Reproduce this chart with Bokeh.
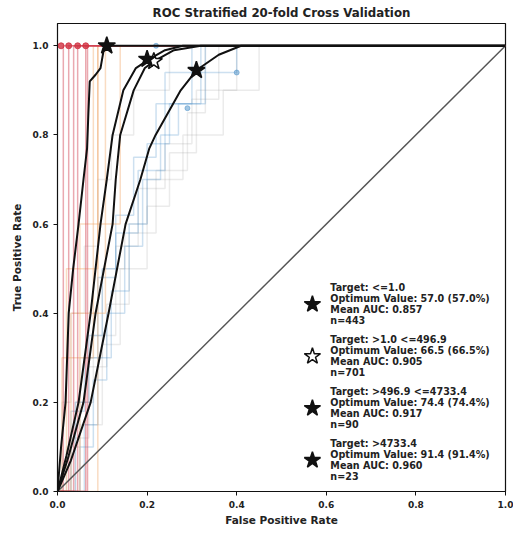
from bokeh.plotting import figure
from bokeh.models import Range1d, FixedTicker, PrintfTickFormatter
from bokeh.core.properties import value
from bokeh.embed import file_html
from bokeh.resources import INLINE

# ---------------- data ----------------
# Mean ROC curves for each target class
targets = ["<=1.0", ">1.0 <=496.9", ">496.9 <=4733.4", ">4733.4"]
optimum = [57.0, 66.5, 74.4, 91.4]
mean_auc = [0.857, 0.905, 0.917, 0.960]
n_obs = [443, 701, 90, 23]

fpr_c1 = [0, 0.03, 0.074, 0.114, 0.152, 0.185, 0.205, 0.219, 0.275, 0.31, 0.36, 0.41, 1.0]
tpr_c1 = [0, 0.07, 0.2, 0.4, 0.6, 0.7, 0.77, 0.8, 0.9, 0.945, 0.98, 1.0, 1.0]
fpr_c2 = [0, 0.025, 0.058, 0.085, 0.123, 0.13, 0.14, 0.17, 0.195, 0.215, 0.26, 0.32, 1.0]
tpr_c2 = [0, 0.08, 0.2, 0.4, 0.6, 0.7, 0.8, 0.9, 0.95, 0.965, 0.99, 1.0, 1.0]
fpr_c3 = [0, 0.02, 0.047, 0.074, 0.096, 0.11, 0.123, 0.147, 0.175, 0.205, 0.24, 0.28, 1.0]
tpr_c3 = [0, 0.08, 0.2, 0.4, 0.6, 0.7, 0.8, 0.9, 0.95, 0.97, 0.99, 1.0, 1.0]
fpr_c4 = [0, 0.008, 0.018, 0.025, 0.035, 0.047, 0.058, 0.066, 0.069, 0.072, 0.085, 0.096, 0.103, 0.11, 1.0]
tpr_c4 = [0, 0.1, 0.2, 0.4, 0.5, 0.6, 0.7, 0.77, 0.85, 0.92, 0.935, 0.95, 0.99, 1.0, 1.0]

opt_fpr = [0.31, 0.215, 0.20, 0.11]
opt_tpr = [0.945, 0.965, 0.97, 1.0]

# individual fold curves: (fpr at each jump, tpr after the jump)
red_folds = [([0.013], [1.0]), ([0.025], [1.0]), ([0.036], [1.0]),
             ([0.045], [1.0]), ([0.063], [1.0]), ([0.067], [1.0])]
red_opt_fpr = [0.008, 0.025, 0.045, 0.063]
orange_folds = [([0.01, 0.08], [0.3, 1.0]), ([0.02, 0.09], [0.5, 1.0]),
                ([0.03, 0.107], [0.4, 1.0]), ([0.05, 0.14], [0.6, 1.0]),
                ([0.09], [1.0])]
blue_folds = [([0.04, 0.07, 0.10, 0.13, 0.17, 0.22, 0.30], [0.2, 0.35, 0.5, 0.62, 0.75, 0.87, 1.0]),
              ([0.06, 0.09, 0.12, 0.16, 0.20, 0.25, 0.32], [0.15, 0.3, 0.45, 0.6, 0.78, 0.87, 1.0]),
              ([0.05, 0.08, 0.11, 0.15, 0.19, 0.23, 0.27, 0.33], [0.1, 0.25, 0.4, 0.55, 0.7, 0.8, 0.87, 1.0]),
              ([0.03, 0.06, 0.09, 0.13, 0.18, 0.24, 0.40], [0.18, 0.3, 0.48, 0.58, 0.72, 0.94, 1.0])]
blue_opt_fpr = [0.29, 0.22, 0.40]
blue_opt_tpr = [0.86, 1.0, 0.94]
gray_folds = [([0.02, 0.05, 0.10, 0.15, 0.20, 0.28, 0.37, 0.45], [0.1, 0.3, 0.5, 0.6, 0.7, 0.8, 0.9, 1.0]),
              ([0.04, 0.08, 0.13, 0.18, 0.24, 0.30, 0.36], [0.2, 0.35, 0.55, 0.68, 0.78, 0.88, 1.0]),
              ([0.03, 0.07, 0.11, 0.16, 0.22, 0.29, 0.33], [0.12, 0.28, 0.42, 0.58, 0.72, 0.85, 1.0]),
              ([0.05, 0.10, 0.14, 0.20, 0.25, 0.31, 0.40], [0.15, 0.33, 0.5, 0.64, 0.76, 0.9, 1.0]),
              ([0.01, 0.03, 0.06, 0.09, 0.12, 0.17, 0.25], [0.2, 0.4, 0.55, 0.7, 0.8, 0.9, 1.0])]

ticks = [0.0, 0.2, 0.4, 0.6, 0.8, 1.0]

# ---------------- figure ----------------
FONT = value("DejaVu Sans")

p = figure(width=513, height=536, output_backend="svg", toolbar_location=None,
           x_range=Range1d(0, 1), y_range=Range1d(0, 1.05),
           min_border_left=57, min_border_right=8, min_border_top=23, min_border_bottom=45,
           title="ROC Stratified 20-fold Cross Validation")
p.title.align = "center"
p.title.text_font = "DejaVu Sans"
p.title.text_font_size = "11.8px"
p.title.text_font_style = "bold"
p.title.text_color = "#222222"
p.title.offset = 0
p.title.standoff = 7

p.xgrid.visible = False
p.ygrid.visible = False
p.outline_line_color = "#111111"
p.outline_line_alpha = 1
p.outline_line_width = 1.2

for ax in (p.xaxis, p.yaxis):
    ax.ticker = FixedTicker(ticks=ticks)
    ax.formatter = PrintfTickFormatter(format="%.1f")
    ax.major_label_text_font = "DejaVu Sans"
    ax.major_label_text_font_size = "9px"
    ax.major_label_text_font_style = "bold"
    ax.major_label_text_color = "#222222"
    ax.axis_label_text_font = "DejaVu Sans"
    ax.axis_label_text_font_size = "10.5px"
    ax.axis_label_text_font_style = "bold"
    ax.axis_label_text_color = "#222222"
    ax.major_tick_out = 4
    ax.major_tick_in = 0
    ax.minor_tick_line_color = None
    ax.axis_line_color = "#111111"
    ax.major_tick_line_color = "#111111"
p.xaxis.axis_label = "False Positive Rate"
p.yaxis.axis_label = "True Positive Rate"
p.xaxis.axis_label_standoff = 3
p.yaxis.axis_label_standoff = 7


def staircase(jumps, levels):
    xs, ys = [0.0], [0.0]
    prev = 0.0
    for f, t in zip(jumps, levels):
        xs += [f, f]
        ys += [prev, t]
        prev = t
    xs.append(1.0)
    ys.append(prev)
    return xs, ys


for folds, color, alpha in ((gray_folds, "#9a9a9a", 0.2), (blue_folds, "#4a90c8", 0.28),
                            (orange_folds, "#f0a868", 0.4), (red_folds, "#d04050", 0.45)):
    for jumps, levels in folds:
        xs, ys = staircase(jumps, levels)
        p.line(xs, ys, line_color=color, line_alpha=alpha, line_width=1.5)

p.scatter(red_opt_fpr, [1.0] * len(red_opt_fpr), marker="circle", size=6,
          fill_color="#d03040", line_color="#d03040", alpha=0.8)
p.scatter(blue_opt_fpr, blue_opt_tpr, marker="circle", size=5,
          fill_color="#4a90c8", line_color="#4a90c8", alpha=0.5)

# chance diagonal
p.line([0, 1], [0, 1], line_color="#555555", line_width=1.5)

# mean curves
for fx, fy in ((fpr_c1, tpr_c1), (fpr_c2, tpr_c2), (fpr_c3, tpr_c3), (fpr_c4, tpr_c4)):
    p.line(fx, fy, line_color="#111111", line_width=2)

star_fill = ["#111111", "white", "#111111", "#111111"]
for i in range(4):
    p.scatter([opt_fpr[i]], [opt_tpr[i]], marker="star", size=18,
              fill_color=star_fill[i], line_color="#111111", line_width=1.5)

# legend (text)
leg_star_x = 0.569
leg_text_x = 0.609
leg_top = 0.457
line_gap = 0.0247
entry_gap = 0.1166
lx, ly, lt = [], [], []
sy = []
for i in range(4):
    y0 = leg_top - i * entry_gap
    lines = [f"Target: {targets[i]}",
             f"Optimum Value: {optimum[i]:.1f} ({optimum[i]:.1f}%)",
             f"Mean AUC: {mean_auc[i]:.3f}",
             f"n={n_obs[i]}"]
    for j, t in enumerate(lines):
        lx.append(leg_text_x)
        ly.append(y0 - j * line_gap)
        lt.append(t)
    sy.append(y0 - 1.5 * line_gap)

p.text(lx, ly, text=lt, text_font=FONT, text_font_size="9.6px", text_font_style="bold",
       text_color="#222222", text_baseline="middle", text_align="left")
for i in range(4):
    p.scatter([leg_star_x], [sy[i]], marker="star", size=17,
              fill_color=star_fill[i], line_color="#111111", line_width=1.5)

open("out.html", "w").write(file_html(p, INLINE))
